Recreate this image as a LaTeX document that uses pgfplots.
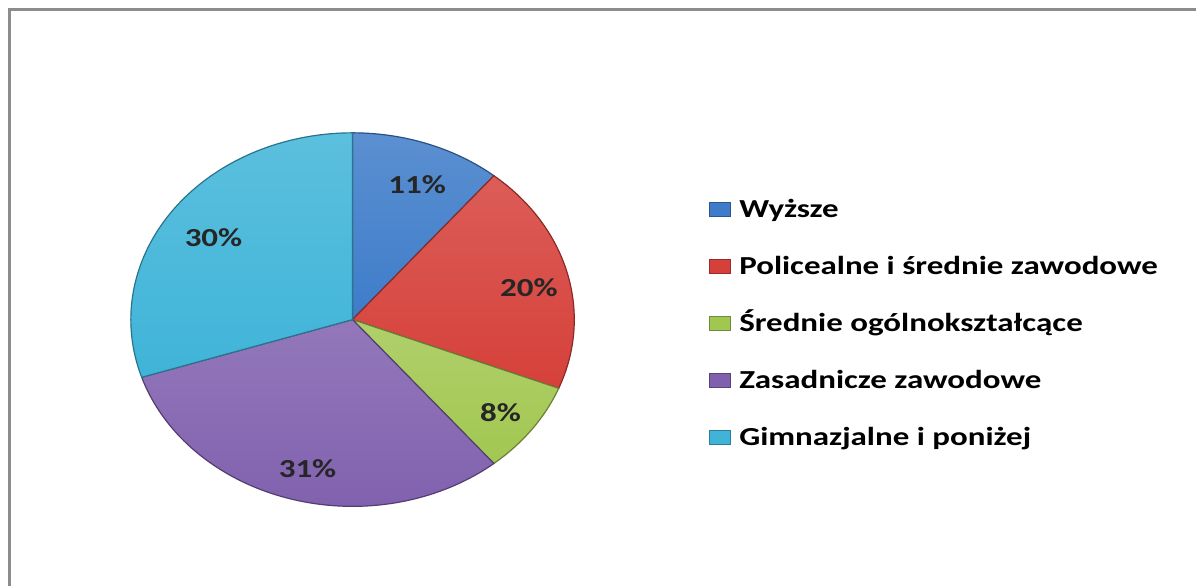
\documentclass[border=0pt]{standalone}
\usepackage{pgfplots}
\pgfplotsset{compat=1.18}
\usepackage{pgfplotstable}
\usepackage{fontspec}
\setmainfont[FakeStretch=1.27]{Carlito}
\definecolor{cWy}{HTML}{3E7CC9}
\definecolor{cPo}{HTML}{D6403A}
\definecolor{cSr}{HTML}{A2C751}
\definecolor{cZa}{HTML}{8060AE}
\definecolor{cGi}{HTML}{3FB4D8}
\definecolor{frame}{HTML}{8C8C8C}
\pgfplotstableread{
idx value
0 11
1 20
2 8
3 31
4 30
}\piedata
\begin{document}
\begin{tikzpicture}[x=1pt,y=1pt]
\path (0,0) rectangle (598.5,293.5);
\draw[frame,line width=1.5pt] (4.75,0) -- (4.75,288.5) -- (598.5,288.5);
\begin{axis}[
  at={(176.5pt,133.5pt)}, anchor=center,
  scale only axis, width=222pt, height=187pt,
  xmin=-1, xmax=1, ymin=-1, ymax=1,
  hide axis, clip=false,
  legend style={at={(1.304,0.4866)}, anchor=west, draw=none, fill=none,
    font=\fontsize{13}{15}\selectfont\bfseries, inner sep=0pt,
    row sep=15.5pt,
    nodes={inner sep=0pt, text height=10pt, text depth=3pt}},
  legend cell align=left,
  legend image code/.code={\fill[#1] (0pt,-2.75pt) rectangle (10.5pt,4pt); \path (14.5pt,0pt);},
]
\addlegendimage{fill=cWy, draw=cWy!70!black}
\addlegendentry{Wyższe}
\addlegendimage{fill=cPo, draw=cPo!70!black}
\addlegendentry{Policealne i średnie zawodowe}
\addlegendimage{fill=cSr, draw=cSr!70!black}
\addlegendentry{Średnie ogólnokształcące}
\addlegendimage{fill=cZa, draw=cZa!70!black}
\addlegendentry{Zasadnicze zawodowe}
\addlegendimage{fill=cGi, draw=cGi!70!black}
\addlegendentry{Gimnazjalne i poniżej}
\pgfplotsextra{
  \gdef\angA{90}
  \foreach \i/\col in {0/cWy,1/cPo,2/cSr,3/cZa,4/cGi} {
    \pgfplotstablegetelem{\i}{value}\of\piedata
    \let\val\pgfplotsretval
    \pgfmathsetmacro\angB{\angA-3.6*\val}
    \pgfmathsetmacro\angM{(\angA+\angB)/2}
    \pgfmathsetmacro\xA{cos(\angA)}
    \pgfmathsetmacro\yA{sin(\angA)}
    \pgfmathsetmacro\xM{0.8*cos(\angM)+0.02}
    \pgfmathsetmacro\yM{0.8*sin(\angM)-0.03}
    \shade[top color=\col!85!white, bottom color=\col]
      (axis cs:0,0) -- (axis cs:\xA,\yA)
      arc[start angle=\angA, end angle=\angB, x radius=111pt, y radius=93.5pt] -- cycle;
    \draw[\col!65!black, line width=0.6pt]
      (axis cs:0,0) -- (axis cs:\xA,\yA)
      arc[start angle=\angA, end angle=\angB, x radius=111pt, y radius=93.5pt] -- cycle;
    \node[font=\fontsize{13}{15}\selectfont\bfseries, text=black!85] at (axis cs:\xM,\yM) {\val\%};
    \xdef\angA{\angB}
  }
}
\end{axis}
\end{tikzpicture}
\end{document}
